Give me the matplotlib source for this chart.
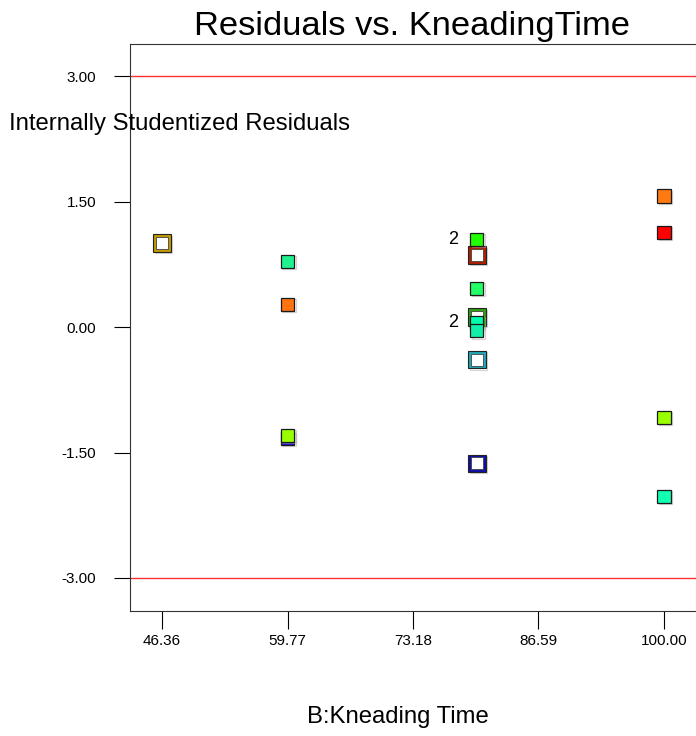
import matplotlib.pyplot as plt
import matplotlib.patheffects as pe

plt.rcParams['font.family'] = ['Liberation Sans', 'DejaVu Sans']

# filled design points (x, residual, colour)
fill_x = [59.77, 59.77, 59.77, 59.77, 80.0, 80.0, 80.0, 80.0, 100.0, 100.0, 100.0, 100.0]
fill_y = [-1.33, 0.79, 0.275, -1.293, 1.053, 0.467, 0.060, -0.044, 1.568, 1.137, -1.077, -2.023]
fill_c = ['#1010c8', '#20f090', '#ff7410', '#99ff00', '#22ff00', '#22ff66', '#00ffaa', '#10f0a8',
          '#ff7a10', '#ff0000', '#99ff00', '#10ffb0']

# open squares
open_x = [46.36, 80.0, 80.0, 80.0, 80.0]
open_y = [1.006, 0.862, 0.123, -0.387, -1.628]
open_c = ['#c09a00', '#b02000', '#30a010', '#20a8b8', '#1010a8']

# "2" labels for repeated points
rep_x = [80.0, 80.0]
rep_y = [1.053, 0.060]
rep_txt = ['2', '2']

xticks = [46.36, 59.77, 73.18, 86.59, 100.00]
yticks = [-3.0, -1.5, 0.0, 1.5, 3.0]

fig = plt.figure(figsize=(6.96, 7.36), dpi=100)
ax = fig.add_axes([0.1874, 0.1705, 0.8119, 0.770])

ax.axhline(3.0, color='#ff3030', lw=1)
ax.axhline(-3.0, color='#ff3030', lw=1)

shadow = [pe.SimpleLineShadow(offset=(1.0, -1.0), shadow_color='#aaaaaa', alpha=0.5), pe.Normal()]

for x, y, c in zip(open_x, open_y, open_c):
    ax.plot(x, y, 's', ms=12.5, mfc=c, mec='#222222', mew=0.8, path_effects=shadow, zorder=3)
    ax.plot(x, y, 's', ms=9, mfc='white', mec='#444444', mew=0.6, zorder=4)

for x, y, c in zip(fill_x, fill_y, fill_c):
    ax.plot(x, y, 's', ms=9.5, mfc=c, mec='#1a1a1a', mew=0.9, path_effects=shadow, zorder=5)

for x, y, t in zip(rep_x, rep_y, rep_txt):
    ax.annotate(t, (x, y), xytext=(-24, 0), textcoords='offset pixels',
                ha='center', va='center', fontsize=13)

ax.set_xlim(42.98, 103.37)
ax.set_ylim(-3.39, 3.39)
ax.set_xticks(xticks)
ax.set_xticklabels(['%.2f' % v for v in xticks])
ax.set_yticks(yticks)
ax.set_yticklabels(['%.2f' % v for v in yticks])
ax.tick_params(axis='x', direction='out', length=13, width=0.8, pad=4, labelsize=11)
ax.tick_params(axis='y', direction='out', length=11.5, width=0.8, pad=13, labelsize=11)
for s in ['left', 'bottom', 'top']:
    ax.spines[s].set_color('#333333')
ax.spines['right'].set_color('#bbbbbb')

fig.text(412.5 / 696, 1 - 27 / 736, 'Residuals vs. KneadingTime', ha='center', va='center', fontsize=24.8)
fig.text(9 / 696, 1 - 124 / 736, 'Internally Studentized Residuals', ha='left', va='center', fontsize=17.2)
fig.text(398 / 696, 1 - 717 / 736, 'B:Kneading Time', ha='center', va='center', fontsize=17.2)

fig.savefig('out.png', dpi=100)
